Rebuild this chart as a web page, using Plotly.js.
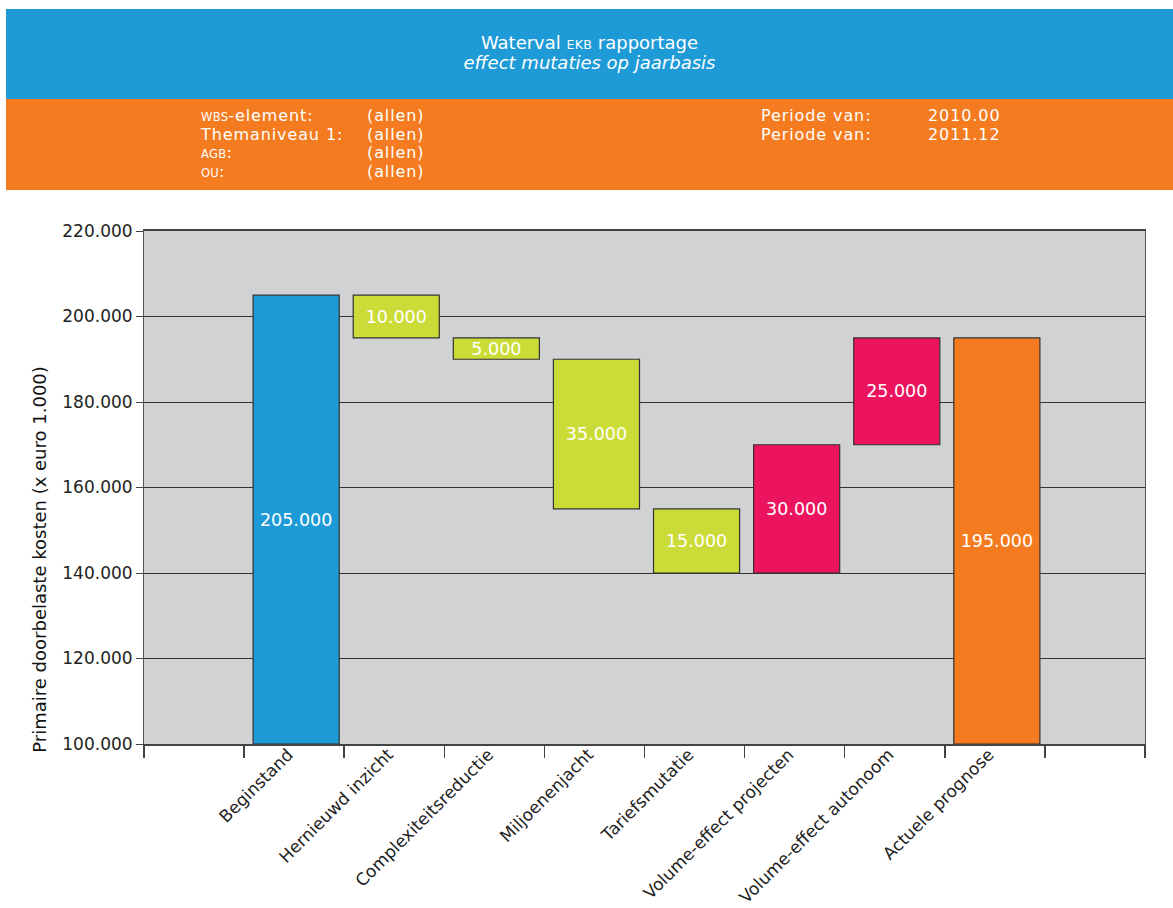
<!DOCTYPE html>
<html>
<head>
<meta charset="utf-8">
<script src="https://cdn.plot.ly/plotly-3.0.1.min.js"></script>
<style>
  html, body { margin:0; padding:0; background:#fff; }
  body { width:1173px; height:908px; position:relative; overflow:hidden; font-family:"DejaVu Sans", "Liberation Sans", Arial, sans-serif; }
  #chart { position:absolute; left:0; top:0; width:1173px; height:908px; }
  .band { position:absolute; left:6px; width:1167px; color:#fff; z-index:2; }
  #blue { top:9px; height:90px; background:#1e9ad6; }
  #orange { top:99px; height:91px; background:#f47b20; }
  .t1 { position:absolute; left:0; top:24px; width:1167px; text-align:center; font-size:18px; line-height:20px; }
  .sc { font-size:11.5px; line-height:1; letter-spacing:0.3px; }
  .col { position:absolute; top:8px; font-size:16px; letter-spacing:0.9px; line-height:18.7px; white-space:nowrap; }
</style>
</head>
<body>
<div id="chart"></div>
<div class="band" id="blue">
  <div class="t1">Waterval <span class="sc" style="font-size:12.5px;">EKB</span> rapportage<br><i>effect mutaties op jaarbasis</i></div>
</div>
<div class="band" id="orange">
  <div class="col" style="left:195px;"><span class="sc">WBS</span>-element:<br>Themaniveau 1:<br><span class="sc">AGB</span>:<br><span class="sc">OU</span>:</div>
  <div class="col" style="left:361px;">(allen)<br>(allen)<br>(allen)<br>(allen)</div>
  <div class="col" style="left:755px;">Periode van:<br>Periode van:</div>
  <div class="col" style="left:922px;">2010.00<br>2011.12</div>
</div>
<script>
// ---- data ----
var categories = ['Beginstand','Hernieuwd inzicht','Complexiteitsreductie','Miljoenenjacht','Tariefsmutatie','Volume-effect projecten','Volume-effect autonoom','Actuele prognose'];
var measures = ['absolute','relative','relative','relative','relative','relative','relative','total'];
var changes = [205000, -10000, -5000, -35000, -15000, 30000, 25000, 195000];
var barColors = ['#1e9ad6','#cbdc38','#cbdc38','#cbdc38','#cbdc38','#ec145f','#ec145f','#f47b20'];
var yTickVals = [100000,120000,140000,160000,180000,200000,220000];
var yTitle = 'Primaire doorbelaste kosten (x euro 1.000)';

var axisMin = 100000, axisMax = 220000;
var slots = [' '].concat(categories).concat(['  ']);
var FONT = 'DejaVu Sans, Liberation Sans, Arial, sans-serif';

function fmt(v){ return Math.abs(v).toString().replace(/\B(?=(\d{3})+(?!\d))/g,'.'); }

var bases = [], heights = [], texts = [];
var run = 0;
for (var i=0;i<changes.length;i++){
  var c = changes[i];
  if (measures[i] === 'relative'){
    if (c < 0){ bases.push(run + c); heights.push(-c); }
    else { bases.push(run); heights.push(c); }
    run += c;
  } else {
    run = c;
    bases.push(axisMin); heights.push(c - axisMin);
  }
  texts.push(fmt(c));
}

var trace = {
  type:'bar',
  x: categories,
  y: heights,
  base: bases,
  width: 0.86,
  offset: -0.41,
  text: texts,
  textposition:'inside',
  insidetextanchor:'middle',
  textangle:0,
  constraintext:'none',
  textfont:{color:'#ffffff', size:17.5, family:FONT},
  marker:{color: barColors, line:{color:'#333333', width:1.2}},
  hoverinfo:'none'
};

var layout = {
  width:1173, height:908,
  margin:{l:144, r:28, t:231, b:164, pad:0},
  paper_bgcolor:'#ffffff',
  plot_bgcolor:'#d1d2d4',
  separators:',.',
  showlegend:false,
  font:{family:FONT, color:'#222222', size:17},
  xaxis:{
    type:'category',
    categoryorder:'array',
    categoryarray: slots,
    range:[-0.5, slots.length-0.5],
    tickson:'boundaries',
    ticks:'outside', ticklen:12, tickcolor:'#444444', tickwidth:1.5,
    tickangle:-45,
    ticklabelstandoff:-8,
    ticklabelshift:-6,
    tickfont:{size:17, color:'#222222', family:FONT},
    showline:true, linecolor:'#444444', linewidth:2, mirror:true,
    showgrid:false, zeroline:false, fixedrange:true
  },
  yaxis:{
    range:[axisMin, axisMax],
    tickmode:'array', tickvals: yTickVals,
    tickformat:',d',
    ticks:'outside', ticklen:7, tickcolor:'#444444',
    tickfont:{size:17, color:'#222222', family:FONT},
    showline:true, linecolor:'#555555', linewidth:1, mirror:true,
    showgrid:true, gridcolor:'#333333', gridwidth:1,
    zeroline:false, fixedrange:true
  },
  annotations:[{
    text: yTitle,
    xref:'paper', yref:'paper',
    x:-0.104, y:0.361,
    xanchor:'center', yanchor:'middle',
    textangle:-90,
    showarrow:false,
    font:{size:18, color:'#111111', family:FONT}
  }]
};

Plotly.newPlot('chart',[trace],layout,{displayModeBar:false, staticPlot:true});
</script>
</body>
</html>
